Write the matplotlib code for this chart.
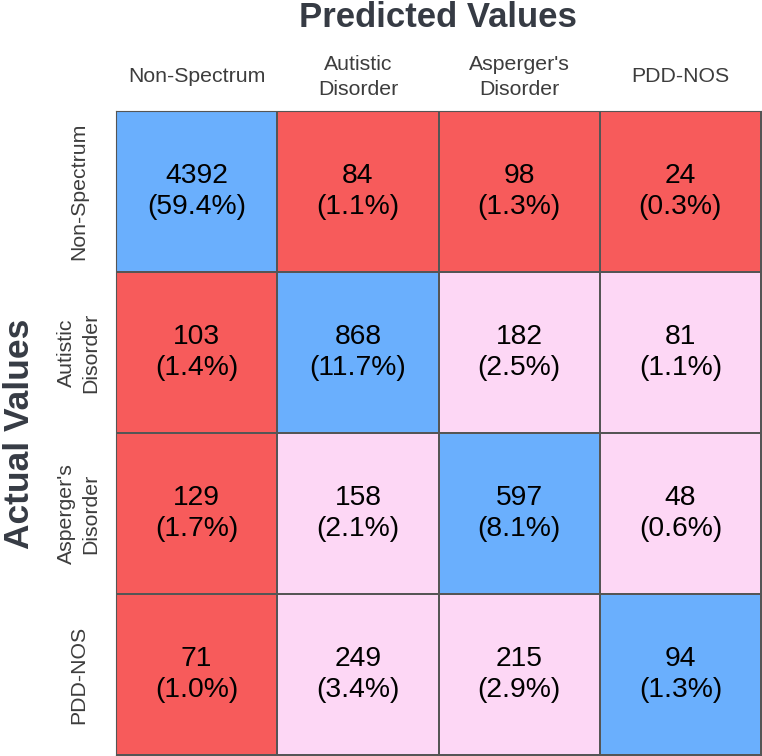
import numpy as np
import matplotlib.pyplot as plt
from matplotlib.colors import ListedColormap

plt.rcParams['font.family'] = ['Liberation Sans', 'DejaVu Sans']

labels = ['Non-Spectrum', 'Autistic\nDisorder', "Asperger's\nDisorder", 'PDD-NOS']
counts = np.array([
    [4392, 84, 98, 24],
    [103, 868, 182, 81],
    [129, 158, 597, 48],
    [71, 249, 215, 94],
])

n = len(labels)
pct = counts / counts.sum() * 100

# 0 = correct, 1 = spectrum vs non-spectrum mistake, 2 = mix-up inside spectrum
kind = np.full((n, n), 2)
kind[0, :] = 1
kind[:, 0] = 1
np.fill_diagonal(kind, 0)
cmap = ListedColormap(['#6aaffd', '#f75b5b', '#fdd7f5'])

fig = plt.figure(figsize=(7.62, 7.56), dpi=100)
ax = fig.add_axes([116/762, 1/756, 645/762, 644/756])
ax.pcolormesh(kind, cmap=cmap, vmin=-0.5, vmax=2.5, edgecolors='#555555', linewidth=1.2)
ax.set_xlim(0, n)
ax.set_ylim(n, 0)

for i in range(n):
    for j in range(n):
        ax.text(j + 0.5, i + 0.5, '%d\n(%.1f%%)' % (counts[i, j], pct[i, j]),
                ha='center', va='center', fontsize=20.3, color='black', linespacing=1.22)

ax.xaxis.tick_top()
ax.set_xticks(np.arange(n) + 0.5)
ax.set_xticklabels(labels, fontsize=15.3, color='#3d3d3d', linespacing=1.4, va='center')
ax.set_yticks(np.arange(n) + 0.5)
ax.set_yticklabels(labels, fontsize=15.3, color='#3d3d3d', rotation=90, va='center', ha='center',
                   linespacing=1.4)
ax.tick_params(length=0)
ax.tick_params(axis='x', pad=24.5)
ax.tick_params(axis='y', pad=27)
for s in ax.spines.values():
    s.set_edgecolor('#555555')

fig.text(438/762, 1 - 27/756, 'Predicted Values', ha='center', va='baseline',
         fontsize=25, fontweight='bold', color='#363b44')
fig.text(20/762, 1 - 434/756, 'Actual Values', ha='center', va='center', rotation=90,
         fontsize=25.5, fontweight='bold', color='#363b44')

fig.savefig('out.png', dpi=100)
